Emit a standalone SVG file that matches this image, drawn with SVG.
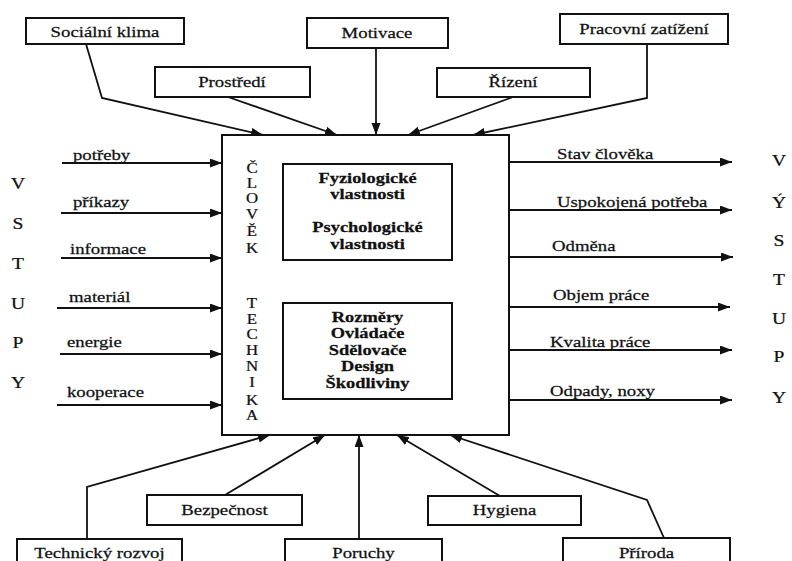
<svg xmlns="http://www.w3.org/2000/svg" width="792" height="561" viewBox="0 0 792 561" font-family="Liberation Serif, DejaVu Serif, serif">
<style>
.t{font-family:"Liberation Serif","DejaVu Serif",serif;fill:#111;stroke:#111;stroke-width:0.25}
.lbl{font-size:15px}
.mid{text-anchor:middle}
.bold{font-size:14.5px;font-weight:bold;text-anchor:middle}
.v{font-size:14px;text-anchor:middle}
.big{font-size:17px;text-anchor:middle}
.box{fill:#fff;stroke:#111;stroke-width:2}
.con{fill:none;stroke:#111;stroke-width:1.8}
</style>
<defs>
<marker id="ah" markerUnits="userSpaceOnUse" markerWidth="13" markerHeight="10" refX="12" refY="4.5" orient="auto">
<path d="M0,0 L12,4.5 L0,9 z" fill="#111"/>
</marker>
</defs>
<rect width="792" height="561" fill="#fff"/>

<g id="connectors">
<polyline class="con" points="86,44 102,98 263,135" marker-end="url(#ah)"/>
<polyline class="con" points="228,97 337,135" marker-end="url(#ah)"/>
<polyline class="con" points="376,48 376,135" marker-end="url(#ah)"/>
<polyline class="con" points="513,97 408,135" marker-end="url(#ah)"/>
<polyline class="con" points="647,44 647,98 473,135" marker-end="url(#ah)"/>
<line class="con" x1="62" y1="163" x2="222" y2="163" marker-end="url(#ah)"/>
<line class="con" x1="61" y1="213" x2="222" y2="213" marker-end="url(#ah)"/>
<line class="con" x1="61" y1="258" x2="222" y2="258" marker-end="url(#ah)"/>
<line class="con" x1="57" y1="308" x2="222" y2="308" marker-end="url(#ah)"/>
<line class="con" x1="60" y1="354" x2="222" y2="354" marker-end="url(#ah)"/>
<line class="con" x1="57" y1="405" x2="222" y2="405" marker-end="url(#ah)"/>
<line class="con" x1="509" y1="162" x2="732" y2="162" marker-end="url(#ah)"/>
<line class="con" x1="509" y1="210" x2="732" y2="210" marker-end="url(#ah)"/>
<line class="con" x1="509" y1="257" x2="733" y2="257" marker-end="url(#ah)"/>
<line class="con" x1="509" y1="307" x2="730" y2="307" marker-end="url(#ah)"/>
<line class="con" x1="509" y1="350" x2="732" y2="350" marker-end="url(#ah)"/>
<line class="con" x1="509" y1="400" x2="732" y2="400" marker-end="url(#ah)"/>
<polyline class="con" points="87,539 87,487 270,435" marker-end="url(#ah)"/>
<polyline class="con" points="225,495 325,435" marker-end="url(#ah)"/>
<polyline class="con" points="359,539 359,435" marker-end="url(#ah)"/>
<polyline class="con" points="500,496 397,435" marker-end="url(#ah)"/>
<polyline class="con" points="664,538 647,500 450,435" marker-end="url(#ah)"/>
<text class="t lbl" transform="translate(73,160) scale(1.25,1)">potřeby</text>
<text class="t lbl" transform="translate(73,207) scale(1.25,1)">příkazy</text>
<text class="t lbl" transform="translate(70,254) scale(1.25,1)">informace</text>
<text class="t lbl" transform="translate(69,302) scale(1.25,1)">materiál</text>
<text class="t lbl" transform="translate(67,347) scale(1.25,1)">energie</text>
<text class="t lbl" transform="translate(67,397) scale(1.25,1)">kooperace</text>
<text class="t lbl" transform="translate(557,159) scale(1.25,1)">Stav člověka</text>
<text class="t lbl" transform="translate(557,207) scale(1.25,1)">Uspokojená potřeba</text>
<text class="t lbl" transform="translate(552,251) scale(1.25,1)">Odměna</text>
<text class="t lbl" transform="translate(553,300) scale(1.25,1)">Objem práce</text>
<text class="t lbl" transform="translate(550,347) scale(1.25,1)">Kvalita práce</text>
<text class="t lbl" transform="translate(550,396) scale(1.25,1)">Odpady, noxy</text>
</g>

<g id="vstupy">
<text class="t big" transform="translate(18,189) scale(1.15,1)">V</text>
<text class="t big" transform="translate(18,229) scale(1.15,1)">S</text>
<text class="t big" transform="translate(18,269) scale(1.15,1)">T</text>
<text class="t big" transform="translate(18,309) scale(1.15,1)">U</text>
<text class="t big" transform="translate(18,348) scale(1.15,1)">P</text>
<text class="t big" transform="translate(18,388) scale(1.15,1)">Y</text>
</g>
<g id="vystupy">
<text class="t big" transform="translate(779,166) scale(1.15,1)">V</text>
<text class="t big" transform="translate(779,208) scale(1.15,1)">Ý</text>
<text class="t big" transform="translate(779,246) scale(1.15,1)">S</text>
<text class="t big" transform="translate(779,285) scale(1.15,1)">T</text>
<text class="t big" transform="translate(779,324) scale(1.15,1)">U</text>
<text class="t big" transform="translate(779,362) scale(1.15,1)">P</text>
<text class="t big" transform="translate(779,403) scale(1.15,1)">Y</text>
</g>

<g id="socialni-klima"><rect class="box" x="26" y="18" width="158" height="26"/><text class="t lbl mid" transform="translate(105,37) scale(1.25,1)">Sociální klima</text></g>
<g id="motivace"><rect class="box" x="307" y="18" width="141" height="30"/><text class="t lbl mid" transform="translate(377,38) scale(1.25,1)">Motivace</text></g>
<g id="pracovni-zatizeni"><rect class="box" x="560" y="14" width="168" height="30"/><text class="t lbl mid" transform="translate(644,34) scale(1.25,1)">Pracovní zatížení</text></g>
<g id="prostredi"><rect class="box" x="155" y="67" width="155" height="30"/><text class="t lbl mid" transform="translate(232,87) scale(1.25,1)">Prostředí</text></g>
<g id="rizeni"><rect class="box" x="437" y="68" width="153" height="29"/><text class="t lbl mid" transform="translate(513,87) scale(1.25,1)">Řízení</text></g>

<g id="clovek-technika">
<rect class="box" x="222" y="135" width="287" height="300"/>
<text class="t v" transform="translate(252,173) scale(1.2,1)">Č</text>
<text class="t v" transform="translate(252,188) scale(1.2,1)">L</text>
<text class="t v" transform="translate(252,203) scale(1.2,1)">O</text>
<text class="t v" transform="translate(252,219) scale(1.2,1)">V</text>
<text class="t v" transform="translate(252,236) scale(1.2,1)">Ě</text>
<text class="t v" transform="translate(252,253) scale(1.2,1)">K</text>
<text class="t v" transform="translate(252,308) scale(1.2,1)">T</text>
<text class="t v" transform="translate(252,324) scale(1.2,1)">E</text>
<text class="t v" transform="translate(252,339) scale(1.2,1)">C</text>
<text class="t v" transform="translate(252,355) scale(1.2,1)">H</text>
<text class="t v" transform="translate(252,371) scale(1.2,1)">N</text>
<text class="t v" transform="translate(252,387) scale(1.2,1)">I</text>
<text class="t v" transform="translate(252,405) scale(1.2,1)">K</text>
<text class="t v" transform="translate(252,420) scale(1.2,1)">A</text>
</g>
<g id="vlastnosti">
<rect class="box" x="283" y="164" width="169" height="96"/>
<text class="t bold" transform="translate(367.5,183) scale(1.27,1)">Fyziologické</text>
<text class="t bold" transform="translate(367.5,199) scale(1.27,1)">vlastnosti</text>
<text class="t bold" transform="translate(367.5,232) scale(1.27,1)">Psychologické</text>
<text class="t bold" transform="translate(367.5,249) scale(1.27,1)">vlastnosti</text>
</g>
<g id="technika-prvky">
<rect class="box" x="283" y="303" width="169" height="96"/>
<text class="t bold" transform="translate(367.5,322) scale(1.27,1)">Rozměry</text>
<text class="t bold" transform="translate(367.5,338) scale(1.27,1)">Ovládače</text>
<text class="t bold" transform="translate(367.5,355) scale(1.27,1)">Sdělovače</text>
<text class="t bold" transform="translate(367.5,371) scale(1.27,1)">Design</text>
<text class="t bold" transform="translate(367.5,388) scale(1.27,1)">Škodliviny</text>
</g>

<g id="bezpecnost"><rect class="box" x="147" y="495" width="155" height="30"/><text class="t lbl mid" transform="translate(224.5,515) scale(1.25,1)">Bezpečnost</text></g>
<g id="hygiena"><rect class="box" x="428" y="496" width="153" height="29"/><text class="t lbl mid" transform="translate(504.5,515) scale(1.25,1)">Hygiena</text></g>
<g id="technicky-rozvoj"><rect class="box" x="17" y="539" width="165" height="30"/><text class="t lbl mid" transform="translate(99.5,558) scale(1.25,1)">Technický rozvoj</text></g>
<g id="poruchy"><rect class="box" x="285" y="539" width="157" height="30"/><text class="t lbl mid" transform="translate(363.5,558) scale(1.25,1)">Poruchy</text></g>
<g id="priroda"><rect class="box" x="563" y="538" width="167" height="30"/><text class="t lbl mid" transform="translate(646.5,558) scale(1.25,1)">Příroda</text></g>
</svg>
